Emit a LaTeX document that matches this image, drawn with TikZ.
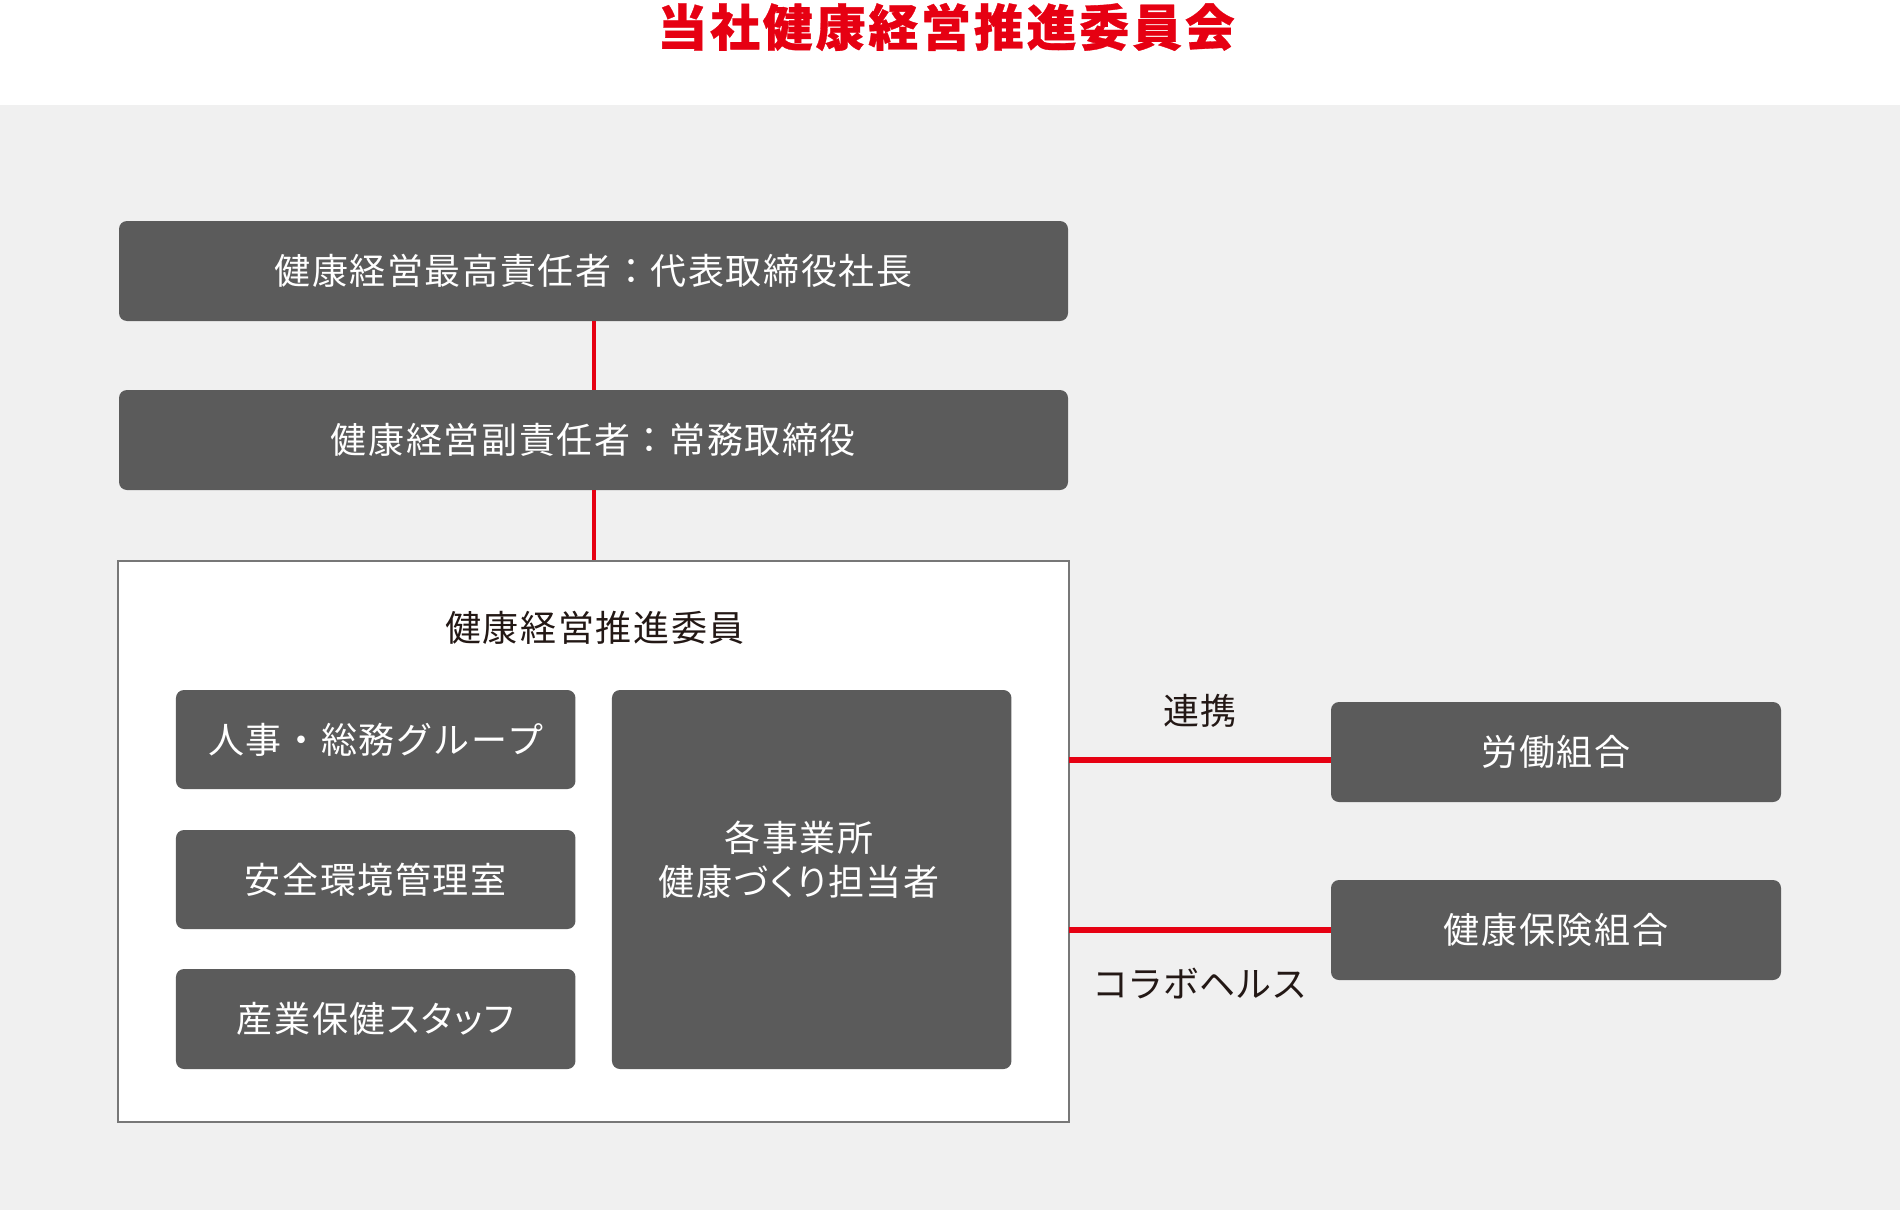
\documentclass[tikz,border=0pt]{standalone}
\usepackage{fontspec}
\newfontfamily\jp[LetterSpace=4.5]{Noto Sans CJK JP}
\newfontfamily\jpk[LetterSpace=4.5,RawFeature={+palt}]{Noto Sans CJK JP}
\newfontfamily\jptitle[LetterSpace=5.5,BoldFeatures={FakeBold=0.6}]{Noto Sans CJK JP}
\definecolor{bg}{HTML}{F0F0F0}
\definecolor{boxgray}{HTML}{5B5B5B}
\definecolor{framegray}{HTML}{777777}
\definecolor{jred}{HTML}{E60012}
\definecolor{ink}{HTML}{231815}
\begin{document}
\begin{tikzpicture}[x=1pt,y=-1pt,
  darkbox/.style={draw=none,fill=boxgray,rounded corners=8pt,inner sep=0pt,
    text=white,font=\jp\fontsize{36}{44}\selectfont,align=center},
  plainlabel/.style={inner sep=0pt,text=ink,font=\jp\fontsize{36}{44}\selectfont,align=center},
  kana/.style={font=\jpk\fontsize{36}{44}\selectfont},
  redline/.style={draw=jred,line width=4pt},
  redthick/.style={draw=jred,line width=6pt}]
\useasboundingbox (0,0) rectangle (1900,1212);
\fill[white] (0,0) rectangle (1900,1212);
\fill[bg] (0,105) rectangle (1900,1210);
\node[inner sep=0pt,text=jred,font=\jptitle\bfseries\fontsize{50}{56}\selectfont] (title) at (946,27) {当社健康経営推進委員会};
% top chain
\node[darkbox,minimum width=949pt,minimum height=100pt] (ceo) at (593.5,271) {健康経営最高責任者：代表取締役社長};
\node[darkbox,minimum width=949pt,minimum height=100pt] (vice) at (593.5,440) {健康経営副責任者：常務取締役};
\node[draw=framegray,line width=2pt,fill=white,minimum width=951pt,minimum height=561pt,inner sep=0pt] (cont) at (593.5,841.5) {};
\node[plainlabel] (contlabel) at (595,628) {健康経営推進委員};
\draw[redline] (ceo.south) -- (vice.north);
\draw[redline] (vice.south) -- (cont.north);
% inner boxes
\node[darkbox,minimum width=399.5pt,minimum height=99pt] (hr) at (375.7,739.5) {人事・総務グループ};
\node[darkbox,minimum width=399.5pt,minimum height=99pt] (safe) at (375.7,879.5) {安全環境管理室};
\node[darkbox,kana,minimum width=399.5pt,minimum height=100pt] (occ) at (375.7,1019) {産業保健スタッフ};
\node[darkbox,minimum width=399.5pt,minimum height=379pt] (sites) at (811.7,879.5) {};
\node[inner sep=0pt,text=white,kana,align=center] (sitestext) at (799,860) {各事業所\\健康づくり担当者};
% right side
\node[darkbox,minimum width=450pt,minimum height=100pt] (union) at (1556,752) {労働組合};
\node[darkbox,minimum width=450pt,minimum height=100pt] (kenpo) at (1556,930) {健康保険組合};
\coordinate (l1) at (1069,760);
\coordinate (l2) at (1069,930);
\draw[redthick] (l1) -- (l1 -| union.west);
\draw[redthick] (l2) -- (l2 -| kenpo.west);
\node[plainlabel] (renkei) at (1200,711) {連携};
\node[plainlabel,kana] (collab) at (1200,984) {コラボヘルス};
\end{tikzpicture}
\end{document}
